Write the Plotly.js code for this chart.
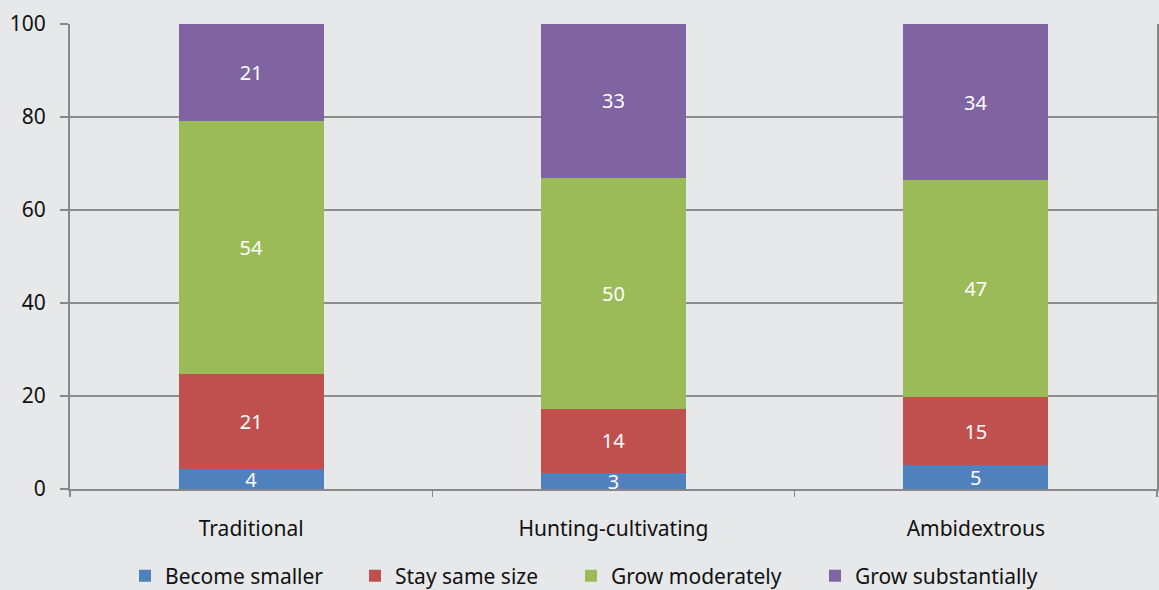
<!DOCTYPE html>
<html>
<head>
<meta charset="utf-8">
<script src="https://cdn.plot.ly/plotly-3.0.1.min.js"></script>
<style>html,body{margin:0;padding:0;background:#e7e8ea;}#chart{width:1159px;height:590px;}</style>
</head>
<body>
<div id="chart"></div>
<script>
const categories = ["Traditional", "Hunting-cultivating", "Ambidextrous"];
const becomeSmaller = [4.2, 3.4, 5.1];
const staySameSize = [20.6, 13.9, 14.7];
const growModerately = [54.4, 49.6, 46.6];
const growSubstantially = [20.8, 33.1, 33.6];
const seriesNames = ["Become smaller", "Stay same size", "Grow moderately", "Grow substantially"];
const seriesColors = ["#4f81bd", "#c0504d", "#9bbb59", "#8064a2"];
const seriesValues = [becomeSmaller, staySameSize, growModerately, growSubstantially];

const FONT = "'Noto Sans', 'Open Sans', sans-serif";
const legendIds = ["legend", "legend2", "legend3", "legend4"];
const legendMarkerLeft = [139, 369, 585, 829];

const traces = seriesValues.map((vals, i) => ({
  type: "bar",
  name: seriesNames[i],
  legend: legendIds[i],
  x: categories,
  y: vals,
  marker: {color: seriesColors[i], line: {width: 0}},
  texttemplate: "%{y:.0f}",
  textposition: "inside",
  insidetextanchor: "middle",
  constraintext: "none",
  textangle: 0,
  textfont: {color: "#ffffff", size: 20, family: FONT},
  hoverinfo: "skip"
}));

const layout = {
  width: 1159, height: 590,
  barmode: "stack",
  bargap: 0.6,
  paper_bgcolor: "#e7e8ea",
  plot_bgcolor: "#e7e8ea",
  margin: {l: 70, r: 2, t: 24, b: 101, autoexpand: false},
  font: {family: FONT, size: 21, color: "#111111"},
  showlegend: true,
  xaxis: {
    type: "category",
    automargin: false,
    tickson: "boundaries",
    ticks: "outside", ticklen: 6, tickcolor: "#888888", tickwidth: 1.5,
    showline: true, linecolor: "#888888", linewidth: 2,
    showgrid: false,
    ticklabelstandoff: 20,
    tickfont: {size: 21, color: "#111111"}
  },
  yaxis: {
    automargin: false,
    range: [0, 100],
    tickvals: [0, 20, 40, 60, 80, 100],
    ticks: "outside", ticklen: 8, tickcolor: "#888888", tickwidth: 1.5,
    showline: true, mirror: true, linecolor: "#888888", linewidth: 2,
    showgrid: true, gridcolor: "#8c8c8c", gridwidth: 1.3,
    zeroline: false,
    ticklabelstandoff: 10,
    tickfont: {size: 21, color: "#111111"}
  }
};
legendIds.forEach((id, i) => {
  layout[id] = {
    orientation: "h", xref: "container", yref: "container",
    x: (legendMarkerLeft[i] - 14) / 1159, xanchor: "left",
    y: 14 / 590, yanchor: "middle",
    bgcolor: "rgba(0,0,0,0)", borderwidth: 0,
    font: {size: 21, color: "#111111", family: FONT}
  };
});

Plotly.newPlot("chart", traces, layout, {staticPlot: true, displayModeBar: false});
</script>
</body>
</html>
